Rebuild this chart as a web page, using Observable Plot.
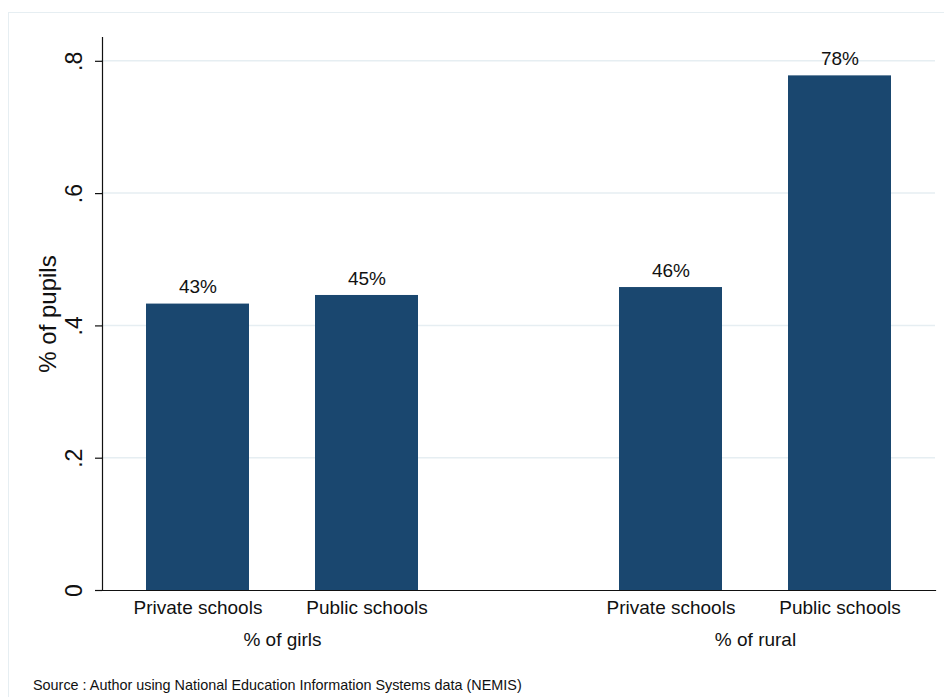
<!DOCTYPE html>
<html>
<head>
<meta charset="utf-8">
<script src="https://cdn.jsdelivr.net/npm/d3@7"></script>
<script src="https://cdn.jsdelivr.net/npm/@observablehq/plot@0.6"></script>
<style>
  html, body { margin: 0; padding: 0; background: #fff; }
  #wrap { position: relative; width: 944px; height: 697px; overflow: hidden; font-family: "Liberation Sans", Arial, sans-serif; }
  #border { position: absolute; left: 8px; top: 12px; width: 960px; height: 720px; border: 1.5px solid #e6eef2; box-sizing: border-box; }
  #chart { position: absolute; left: 0; top: 0; }
  #source { position: absolute; left: 33px; top: 677px; font-size: 14.4px; color: #111; white-space: nowrap; }
</style>
</head>
<body>
<div id="wrap">
  <div id="border"></div>
  <div id="chart"></div>
  <div id="source">Source : Author using National Education Information Systems data (NEMIS)</div>
</div>
<script>
const groups = ["% of girls", "% of girls", "% of rural", "% of rural"];
const schools = ["Private schools", "Public schools", "Private schools", "Public schools"];
const shares = [0.433, 0.446, 0.458, 0.778];
const valueLabels = ["43%", "45%", "46%", "78%"];
const groupLabels = ["% of girls", "% of rural"];
const schoolLabels = ["Private schools", "Public schools"];
const yTicks = [0, 0.2, 0.4, 0.6, 0.8];
const yTitle = "% of pupils";

const data = shares.map((v, i) => ({group: groups[i], school: schools[i], value: v, label: valueLabels[i]}));
const fmt = d => d === 0 ? "0" : String(d).replace(/^0/, "");
const firstFacet = () => groupLabels[0];

const plot = Plot.plot({
  width: 944,
  height: 660,
  marginLeft: 101,
  marginRight: 9,
  marginTop: 37,
  marginBottom: 70,
  style: {fontFamily: "Liberation Sans, Arial, sans-serif", background: "transparent", color: "#111"},
  fx: {domain: groupLabels, paddingInner: 0.239, paddingOuter: 0, axis: null},
  x: {domain: schoolLabels, paddingInner: 0.392, paddingOuter: 0.26, axis: null},
  y: {domain: [0, 0.836], axis: null},
  marks: [
    Plot.barY(data, {fx: "group", x: "school", y: "value", fill: "#1a476f"}),
    Plot.text(data, {fx: "group", x: "school", y: "value", text: "label", dy: -17, fontSize: 19}),
    Plot.axisX({tickSize: 0, tickPadding: 10, fontSize: 19, label: null}),
    Plot.text(groupLabels, {fx: d => d, text: d => d, frameAnchor: "bottom", dy: 55, fontSize: 19}),
    Plot.axisY({ticks: yTicks, tickSize: 7, tickFormat: () => "", label: null, strokeWidth: 1.2}),
    Plot.text(yTicks, {fx: firstFacet, y: d => d, text: fmt, frameAnchor: "left", textAnchor: "middle", rotate: -90, dx: -28, fontSize: 23}),
    Plot.text([yTitle], {fx: firstFacet, text: d => d, frameAnchor: "left", textAnchor: "middle", rotate: -90, dx: -54, fontSize: 24}),
    Plot.frame({anchor: "bottom", stroke: "#111", strokeWidth: 1.2, facet: "super"}),
    Plot.frame({anchor: "left", stroke: "#111", strokeWidth: 1.2, facet: "super"})
  ]
});

// continuous gridlines across both facets, positioned with Plot's own y scale
const y = plot.scale("y");
const svg = d3.select(plot);
const grid = svg.insert("g", ":first-child").attr("stroke", "#e6eef2").attr("stroke-width", 1.5);
grid.selectAll("line")
  .data(yTicks.filter(d => d > 0))
  .join("line")
  .attr("x1", 101).attr("x2", 944 - 9)
  .attr("y1", d => y.apply(d)).attr("y2", d => y.apply(d));

document.getElementById("chart").appendChild(plot);
</script>
</body>
</html>
